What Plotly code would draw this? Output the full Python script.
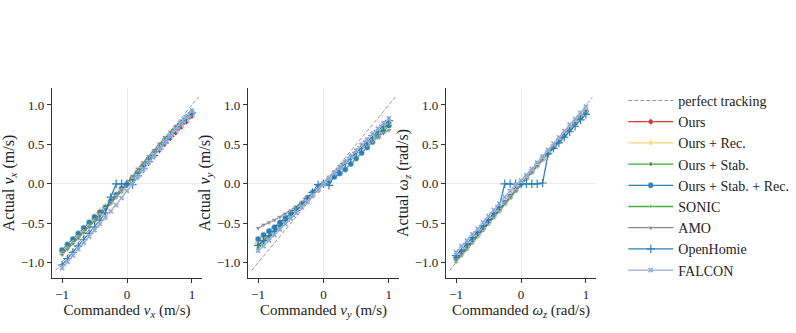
import plotly.graph_objects as go

# Commanded values (shared by all series)
X = [-1.0, -0.917, -0.833, -0.75, -0.667, -0.583, -0.5, -0.417, -0.333, -0.25, -0.167, -0.083,
     0.0, 0.083, 0.167, 0.25, 0.333, 0.417, 0.5, 0.583, 0.667, 0.75, 0.833, 0.917, 1.0]
PERFECT = [-1.1, 1.1]

# ---- v_x ----
ours_vx = [-0.86, -0.80, -0.73, -0.66, -0.59, -0.52, -0.45, -0.38, -0.31, -0.24, -0.16, -0.08, -0.01, 0.06, 0.13, 0.21, 0.28, 0.36, 0.43, 0.51, 0.58, 0.65, 0.72, 0.79, 0.86]
rec_vx = [-0.85, -0.78, -0.71, -0.63, -0.55, -0.47, -0.40, -0.33, -0.27, -0.20, -0.13, -0.06, 0.0, 0.07, 0.14, 0.22, 0.30, 0.38, 0.46, 0.53, 0.61, 0.68, 0.75, 0.82, 0.89]
stab_vx = [-0.88, -0.82, -0.75, -0.68, -0.61, -0.54, -0.47, -0.40, -0.32, -0.25, -0.17, -0.10, -0.02, 0.06, 0.14, 0.22, 0.30, 0.38, 0.46, 0.54, 0.62, 0.69, 0.77, 0.85, 0.92]
stabrec_vx = [-0.84, -0.77, -0.70, -0.63, -0.56, -0.49, -0.42, -0.36, -0.30, -0.22, -0.14, -0.06, 0.0, 0.07, 0.15, 0.23, 0.31, 0.39, 0.47, 0.55, 0.62, 0.70, 0.77, 0.84, 0.90]
sonic_vx = [-0.87, -0.81, -0.74, -0.67, -0.60, -0.53, -0.46, -0.39, -0.32, -0.24, -0.16, -0.08, 0.0, 0.08, 0.16, 0.24, 0.31, 0.39, 0.47, 0.55, 0.63, 0.70, 0.78, 0.85, 0.92]
amo_vx = [-0.90, -0.83, -0.76, -0.69, -0.62, -0.55, -0.48, -0.40, -0.32, -0.24, -0.16, -0.08, 0.01, 0.10, 0.19, 0.27, 0.35, 0.43, 0.51, 0.59, 0.66, 0.73, 0.80, 0.86, 0.88]
oh_vx = [-1.03, -0.95, -0.87, -0.79, -0.71, -0.63, -0.55, -0.46, -0.37, -0.17, 0.0, 0.0, 0.0, -0.01, 0.10, 0.19, 0.28, 0.36, 0.44, 0.52, 0.60, 0.68, 0.76, 0.83, 0.90]
falcon_vx = [-1.07, -0.99, -0.91, -0.83, -0.75, -0.67, -0.59, -0.51, -0.43, -0.35, -0.27, -0.18, -0.09, 0.00, 0.09, 0.18, 0.27, 0.36, 0.45, 0.53, 0.61, 0.69, 0.77, 0.85, 0.93]

# ---- v_y ----
ours_vy = [-0.75, -0.70, -0.64, -0.59, -0.53, -0.47, -0.41, -0.35, -0.29, -0.22, -0.15, -0.08, 0.0, 0.07, 0.14, 0.20, 0.27, 0.33, 0.40, 0.46, 0.52, 0.58, 0.65, 0.71, 0.77]
rec_vy = [-0.73, -0.68, -0.62, -0.56, -0.50, -0.44, -0.38, -0.33, -0.27, -0.21, -0.14, -0.07, 0.0, 0.07, 0.13, 0.20, 0.26, 0.33, 0.39, 0.45, 0.51, 0.57, 0.63, 0.69, 0.75]
stab_vy = [-0.82, -0.75, -0.68, -0.61, -0.54, -0.46, -0.40, -0.34, -0.28, -0.21, -0.14, -0.07, 0.0, 0.07, 0.13, 0.20, 0.26, 0.32, 0.39, 0.45, 0.51, 0.57, 0.63, 0.68, 0.73]
stabrec_vy = [-0.70, -0.65, -0.60, -0.55, -0.49, -0.43, -0.37, -0.31, -0.25, -0.18, -0.11, -0.05, 0.0, 0.04, 0.09, 0.13, 0.18, 0.25, 0.32, 0.39, 0.46, 0.53, 0.60, 0.67, 0.74]
sonic_vy = [-0.80, -0.74, -0.67, -0.61, -0.54, -0.47, -0.41, -0.34, -0.27, -0.20, -0.13, -0.06, 0.0, 0.07, 0.14, 0.20, 0.27, 0.34, 0.40, 0.47, 0.53, 0.59, 0.65, 0.71, 0.76]
amo_vy = [-0.56, -0.52, -0.49, -0.46, -0.42, -0.38, -0.34, -0.29, -0.24, -0.18, -0.12, -0.05, 0.02, 0.09, 0.16, 0.22, 0.28, 0.34, 0.40, 0.45, 0.50, 0.55, 0.60, 0.64, 0.68]
oh_vy = [-0.78, -0.72, -0.66, -0.60, -0.53, -0.47, -0.41, -0.34, -0.27, -0.19, -0.11, -0.01, 0.0, -0.02, 0.11, 0.19, 0.26, 0.33, 0.40, 0.47, 0.54, 0.61, 0.67, 0.74, 0.80]
falcon_vy = [-0.85, -0.79, -0.72, -0.65, -0.58, -0.51, -0.44, -0.37, -0.30, -0.23, -0.15, -0.08, 0.0, 0.07, 0.14, 0.21, 0.28, 0.35, 0.42, 0.49, 0.56, 0.63, 0.70, 0.77, 0.83]

# ---- omega_z ----
ours_wz = [-0.94, -0.87, -0.79, -0.71, -0.63, -0.55, -0.47, -0.39, -0.31, -0.23, -0.15, -0.07, 0.0, 0.07, 0.15, 0.23, 0.31, 0.39, 0.47, 0.55, 0.62, 0.70, 0.78, 0.86, 0.93]
rec_wz = [-0.93, -0.86, -0.78, -0.70, -0.62, -0.54, -0.46, -0.38, -0.30, -0.22, -0.14, -0.06, 0.01, 0.08, 0.16, 0.24, 0.32, 0.40, 0.48, 0.55, 0.63, 0.71, 0.78, 0.86, 0.93]
stab_wz = [-0.99, -0.91, -0.83, -0.75, -0.67, -0.59, -0.51, -0.43, -0.35, -0.26, -0.18, -0.09, -0.01, 0.07, 0.15, 0.23, 0.31, 0.39, 0.47, 0.55, 0.63, 0.71, 0.78, 0.85, 0.91]
stabrec_wz = [-0.95, -0.88, -0.80, -0.72, -0.64, -0.56, -0.48, -0.40, -0.32, -0.24, -0.16, -0.08, 0.0, 0.08, 0.16, 0.24, 0.32, 0.40, 0.47, 0.55, 0.62, 0.70, 0.77, 0.85, 0.92]
sonic_wz = [-0.97, -0.89, -0.81, -0.73, -0.65, -0.57, -0.49, -0.41, -0.33, -0.25, -0.17, -0.08, 0.0, 0.08, 0.16, 0.24, 0.32, 0.40, 0.47, 0.55, 0.62, 0.70, 0.77, 0.85, 0.92]
amo_wz = [-0.97, -0.89, -0.81, -0.73, -0.65, -0.57, -0.49, -0.41, -0.33, -0.25, -0.17, -0.09, -0.01, 0.07, 0.15, 0.23, 0.31, 0.39, 0.47, 0.55, 0.63, 0.71, 0.78, 0.86, 0.93]
oh_wz = [-0.91, -0.84, -0.76, -0.68, -0.61, -0.53, -0.45, -0.37, -0.28, 0.0, 0.0, 0.0, 0.0, 0.0, 0.0, 0.0, 0.01, 0.38, 0.45, 0.52, 0.59, 0.66, 0.73, 0.81, 0.88]
falcon_wz = [-0.87, -0.79, -0.72, -0.64, -0.57, -0.49, -0.41, -0.33, -0.25, -0.17, -0.09, -0.01, 0.04, 0.11, 0.19, 0.27, 0.35, 0.43, 0.51, 0.59, 0.67, 0.75, 0.82, 0.90, 0.98]

NAMES = ["Ours", "Ours + Rec.", "Ours + Stab.", "Ours + Stab. + Rec.", "SONIC", "AMO", "OpenHomie", "FALCON"]
DATA = [
    [ours_vx, rec_vx, stab_vx, stabrec_vx, sonic_vx, amo_vx, oh_vx, falcon_vx],
    [ours_vy, rec_vy, stab_vy, stabrec_vy, sonic_vy, amo_vy, oh_vy, falcon_vy],
    [ours_wz, rec_wz, stab_wz, stabrec_wz, sonic_wz, amo_wz, oh_wz, falcon_wz],
]
XLABELS = ["Commanded <i>v</i><sub><i>x</i></sub> (m/s)", "Commanded <i>v</i><sub><i>y</i></sub> (m/s)",
           "Commanded <i>ω</i><sub><i>z</i></sub> (rad/s)"]
YLABELS = ["Actual <i>v</i><sub><i>x</i></sub> (m/s)", "Actual <i>v</i><sub><i>y</i></sub> (m/s)",
           "Actual <i>ω</i><sub><i>z</i></sub> (rad/s)"]

STYLES = [
    dict(color="#d62728", symbol="diamond", size=5),
    dict(color="#f9cf72", symbol="star", size=6),
    dict(color="#2ca02c", symbol="circle", size=4),
    dict(color="#1f77b4", symbol="circle", size=6),
    dict(color="#3aa63a", symbol="triangle-up", size=4),
    dict(color="#7f7f7f", symbol="triangle-down", size=5),
    dict(color="#1f77b4", symbol="cross-thin", size=6),
    dict(color="#8aa3d6", symbol="x", size=5),
]

W, H = 796, 333
XDOM = [(52 / W, 202 / W), (248 / W, 399 / W), (446 / W, 596 / W)]
YDOM = ((333 - 278) / H, (333 - 88) / H)

fig = go.Figure()
FONT = "Liberation Serif, Times New Roman, serif"

for i in range(3):
    xa = "x" if i == 0 else f"x{i+1}"
    ya = "y" if i == 0 else f"y{i+1}"
    fig.add_trace(go.Scatter(x=PERFECT, y=PERFECT, mode="lines", name="perfect tracking",
                             line=dict(color="#999999", width=1, dash="4px,2px"),
                             xaxis=xa, yaxis=ya, showlegend=(i == 0)))
    for name, ys, st in zip(NAMES, DATA[i], STYLES):
        sym = st["symbol"]
        mline = dict(width=1.2, color=st["color"]) if sym == "cross-thin" else dict(width=0.4, color="white")
        fig.add_trace(go.Scatter(
            x=X, y=ys, mode="lines+markers", name=name,
            line=dict(color=st["color"], width=1.3),
            marker=dict(symbol=sym, size=st["size"], color=st["color"], line=mline),
            opacity=0.92,
            xaxis=xa, yaxis=ya, showlegend=(i == 0)))

axis_common = dict(showgrid=False, zeroline=True, zerolinecolor="#ececec", zerolinewidth=1,
                   showline=True, linecolor="#333333", linewidth=1.2, ticks="outside",
                   ticklen=4, tickwidth=1.1, tickcolor="#333333", mirror=False,
                   tickfont=dict(family=FONT, size=13, color="#222"))

layout = dict(width=W, height=H, margin=dict(l=0, r=0, t=0, b=0),
              paper_bgcolor="white", plot_bgcolor="white",
              font=dict(family=FONT, size=13, color="#222"),
              legend=dict(x=0.783, y=0.745, xanchor="left", yanchor="top",
                          font=dict(family=FONT, size=14, color="#222"),
                          bgcolor="rgba(0,0,0,0)", tracegroupgap=0, itemwidth=45))
for i in range(3):
    xk = "xaxis" if i == 0 else f"xaxis{i+1}"
    yk = "yaxis" if i == 0 else f"yaxis{i+1}"
    layout[xk] = dict(axis_common, domain=list(XDOM[i]), range=[-1.155, 1.155],
                      tickvals=[-1, 0, 1], ticktext=["−1", "0", "1"],
                      anchor=("y" if i == 0 else f"y{i+1}"),
                      title=dict(text=XLABELS[i], font=dict(family=FONT, size=15), standoff=3))
    layout[yk] = dict(axis_common, domain=list(YDOM), range=[-1.195, 1.215],
                      tickvals=[-1, -0.5, 0, 0.5, 1], tickformat=".1f",
                      anchor=("x" if i == 0 else f"x{i+1}"),
                      title=dict(text=YLABELS[i], font=dict(family=FONT, size=16), standoff=2))

fig.update_layout(**layout)
fig.write_html("out.html")
